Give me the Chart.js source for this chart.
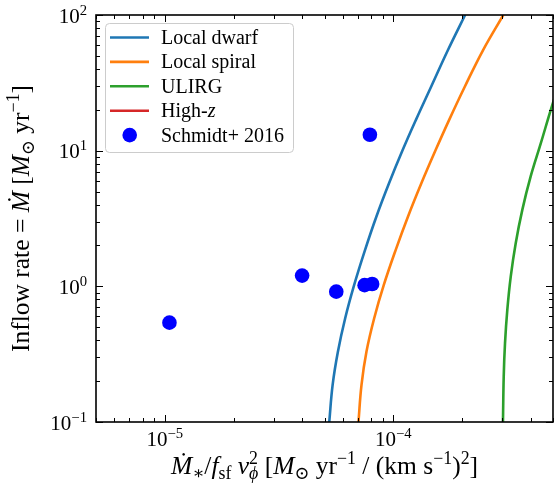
<!DOCTYPE html>
<html>
<head>
<meta charset="utf-8">
<script src="https://cdn.jsdelivr.net/npm/chart.js@4.4.1/dist/chart.umd.min.js"></script>
<style>
  html, body { margin: 0; padding: 0; background: #fff; }
  canvas { display: block; }
</style>
</head>
<body>
<canvas id="inflowChart" width="555" height="485"></canvas>
<script>
// ===== DATA =====
const xDwarf = [5.245e-5, 5.427e-5, 5.723e-5, 6.159e-5, 6.743e-5, 7.52e-5, 8.43e-5, 9.58e-5, 1.099e-4, 1.255e-4, 1.464e-4, 1.735e-4, 2.062e-4];
const yDwarf = [0.1, 0.188, 0.330, 0.582, 1.024, 1.85, 3.26, 5.75, 10.1, 16.8, 29.6, 55.2, 100];

const xSpiral = [7.04e-5, 7.26e-5, 7.63e-5, 8.25e-5, 9.09e-5, 1.024e-4, 1.159e-4, 1.327e-4, 1.532e-4, 1.754e-4, 2.055e-4, 2.472e-4, 3.03e-4];
const ySpiral = [0.1, 0.188, 0.330, 0.582, 1.024, 1.85, 3.26, 5.75, 10.1, 16.8, 29.6, 55.2, 100];

const xUlirg = [3.02e-4, 3.043e-4, 3.083e-4, 3.155e-4, 3.266e-4, 3.434e-4, 3.67e-4, 3.99e-4, 4.42e-4, 4.89e-4, 5.44e-4];
const yUlirg = [0.1, 0.216, 0.381, 0.670, 1.18, 2.08, 3.66, 6.43, 11.3, 20.0, 35.1];

// High-z curve lies outside the plotted range
const xHighz = [];
const yHighz = [];

const xSchmidt = [1.048e-5, 3.99e-5, 5.63e-5, 7.49e-5, 8.08e-5, 7.9e-5];
const ySchmidt = [0.54, 1.20, 0.914, 1.02, 1.04, 13.1];

const xRange = [5e-6, 5e-4];
const yRange = [0.1, 100];
const xMajor = [1e-5, 1e-4];
const xMajorExp = ["−5", "−4"];
const yMajor = [0.1, 1, 10, 100];
const yMajorExp = ["−1", "0", "1", "2"];

const COLORS = { dwarf: "#1f77b4", spiral: "#ff7f0e", ulirg: "#2ca02c", highz: "#d62728", schmidt: "#0000ff" };
const SERIF = '"Liberation Serif", "DejaVu Serif", serif';

function pts(xs, ys) {
    return xs.map((x, i) => ({ x: x, y: ys[i] }));
}

// ===== RICH TEXT (sub / superscripts) =====
function fontFor(seg, size) {
    const s = seg.sh ? size * 0.7 : size;
    return (seg.it ? "italic " : "") + s + "px " + SERIF;
}

function layoutRich(ctx, segs, size) {
    let x = 0, prevStart = 0, prevW = 0;
    const out = [];
    segs.forEach(seg => {
        ctx.font = fontFor(seg, size);
        const w = ctx.measureText(seg.t).width;
        let start;
        if (seg.over) {
            start = prevStart;
            x += Math.max(0, w - prevW);
            prevW = Math.max(w, prevW);
        } else {
            start = x;
            x += w;
            prevW = w;
        }
        prevStart = start;
        out.push({ seg: seg, x: start });
    });
    return { items: out, width: x };
}

function drawRich(ctx, segs, x, y, size, align) {
    const lay = layoutRich(ctx, segs, size);
    let x0 = x;
    if (align === "center") x0 = x - lay.width / 2;
    if (align === "right") x0 = x - lay.width;
    ctx.textBaseline = "alphabetic";
    ctx.textAlign = "left";
    lay.items.forEach(it => {
        ctx.font = fontFor(it.seg, size);
        let dy = 0;
        if (it.seg.sh === 1) dy = -0.38 * size;
        if (it.seg.sh === -1) dy = 0.2 * size;
        ctx.fillText(it.seg.t, x0 + it.x, y + dy);
    });
}

// ===== FRAME, TICKS, LABELS, LEGEND =====
const framePlugin = {
    id: "frame",
    beforeDraw(chart) {
        const ctx = chart.ctx;
        ctx.save();
        ctx.fillStyle = "#fff";
        ctx.fillRect(0, 0, chart.width, chart.height);
        ctx.restore();
    },
    afterDraw(chart) {
        const ctx = chart.ctx;
        const a = chart.chartArea;
        const xs = chart.scales.x, ys = chart.scales.y;
        ctx.save();
        ctx.strokeStyle = "#000";
        ctx.fillStyle = "#000";

        // ticks (inward, all four sides)
        ctx.lineWidth = 1;
        function tick(px, horiz, len) {
            ctx.beginPath();
            if (horiz) {
                ctx.moveTo(px, a.bottom); ctx.lineTo(px, a.bottom - len);
                ctx.moveTo(px, a.top); ctx.lineTo(px, a.top + len);
            } else {
                ctx.moveTo(a.left, px); ctx.lineTo(a.left + len, px);
                ctx.moveTo(a.right, px); ctx.lineTo(a.right - len, px);
            }
            ctx.stroke();
        }
        for (let d = -6; d <= -3; d++) {
            for (let m = 1; m <= 9; m++) {
                const v = m * Math.pow(10, d);
                if (v < xRange[0] * 0.999 || v > xRange[1] * 1.001) continue;
                const px = Math.round(xs.getPixelForValue(v)) + 0.5;
                tick(px, true, m === 1 ? 7 : 4);
            }
        }
        for (let d = -1; d <= 2; d++) {
            for (let m = 1; m <= 9; m++) {
                const v = m * Math.pow(10, d);
                if (v < yRange[0] * 0.999 || v > yRange[1] * 1.001) continue;
                const py = Math.round(ys.getPixelForValue(v)) + 0.5;
                tick(py, false, m === 1 ? 7 : 4);
            }
        }

        // spines
        ctx.lineWidth = 1.6;
        ctx.strokeRect(a.left, a.top, a.right - a.left, a.bottom - a.top);

        // tick labels
        const TS = 21;
        xMajor.forEach((v, i) => {
            const px = xs.getPixelForValue(v);
            drawRich(ctx, [{ t: "10" }, { t: xMajorExp[i], sh: 1 }], px, a.bottom + 24, TS, "center");
        });
        yMajor.forEach((v, i) => {
            const py = ys.getPixelForValue(v);
            drawRich(ctx, [{ t: "10" }, { t: yMajorExp[i], sh: 1 }], a.left - 9, py + 7.5, TS, "right");
        });

        // axis titles
        const AS = 25.5;
        const xTitle = [
            { t: "Ṁ", it: true }, { t: "∗", sh: -1 }, { t: "/" },
            { t: "f", it: true }, { t: "sf", sh: -1 }, { t: " " },
            { t: "v", it: true }, { t: "2", sh: 1 }, { t: "ϕ", it: true, sh: -1, over: true },
            { t: " [" }, { t: "M", it: true }, { t: "⊙", sh: -1 },
            { t: " yr" }, { t: "−1", sh: 1 }, { t: " / (km s" }, { t: "−1", sh: 1 },
            { t: ")" }, { t: "2", sh: 1 }, { t: "]" }
        ];
        drawRich(ctx, xTitle, (a.left + a.right) / 2, 474, AS, "center");

        const yTitle = [
            { t: "Inflow rate = " }, { t: "Ṁ", it: true }, { t: " [" },
            { t: "M", it: true }, { t: "⊙", sh: -1 }, { t: " yr" },
            { t: "−1", sh: 1 }, { t: "]" }
        ];
        ctx.save();
        ctx.translate(28.5, (a.top + a.bottom) / 2);
        ctx.rotate(-Math.PI / 2);
        drawRich(ctx, yTitle, 0, 0, AS, "center");
        ctx.restore();

        // legend
        const L = { x: 105, y: 23, w: 188, h: 129 };
        ctx.fillStyle = "rgba(255,255,255,0.8)";
        ctx.strokeStyle = "#cccccc";
        ctx.lineWidth = 1;
        ctx.beginPath();
        ctx.roundRect(L.x + 0.5, L.y + 0.5, L.w, L.h, 4);
        ctx.fill();
        ctx.stroke();

        const rows = [
            { segs: [{ t: "Local dwarf" }], color: COLORS.dwarf, kind: "line" },
            { segs: [{ t: "Local spiral" }], color: COLORS.spiral, kind: "line" },
            { segs: [{ t: "ULIRG" }], color: COLORS.ulirg, kind: "line" },
            { segs: [{ t: "High-" }, { t: "z", it: true }], color: COLORS.highz, kind: "line" },
            { segs: [{ t: "Schmidt+ 2016" }], color: COLORS.schmidt, kind: "dot" }
        ];
        rows.forEach((r, i) => {
            const cy = 37.5 + i * 24.4;
            if (r.kind === "line") {
                ctx.strokeStyle = r.color;
                ctx.lineWidth = 2.6;
                ctx.beginPath();
                ctx.moveTo(110, cy);
                ctx.lineTo(149, cy);
                ctx.stroke();
            } else {
                ctx.fillStyle = r.color;
                ctx.beginPath();
                ctx.arc(129.7, cy, 7.3, 0, Math.PI * 2);
                ctx.fill();
            }
            ctx.fillStyle = "#000";
            drawRich(ctx, r.segs, 161, cy + 6.5, 20, "left");
        });

        ctx.restore();
    }
};

// ===== CHART =====
const lineStyle = {
    showLine: true,
    pointRadius: 0,
    borderWidth: 2.6,
    tension: 0.4,
    clip: 0,
    order: 1
};

new Chart(document.getElementById("inflowChart"), {
    type: "scatter",
    data: {
        datasets: [
            Object.assign({ label: "Local dwarf", data: pts(xDwarf, yDwarf), borderColor: COLORS.dwarf }, lineStyle),
            Object.assign({ label: "Local spiral", data: pts(xSpiral, ySpiral), borderColor: COLORS.spiral }, lineStyle),
            Object.assign({ label: "ULIRG", data: pts(xUlirg, yUlirg), borderColor: COLORS.ulirg }, lineStyle),
            Object.assign({ label: "High-z", data: pts(xHighz, yHighz), borderColor: COLORS.highz }, lineStyle),
            {
                label: "Schmidt+ 2016",
                data: pts(xSchmidt, ySchmidt),
                pointRadius: 7.3,
                pointBackgroundColor: COLORS.schmidt,
                pointBorderWidth: 0,
                showLine: false,
                order: 0
            }
        ]
    },
    options: {
        responsive: false,
        animation: false,
        devicePixelRatio: 1,
        layout: { autoPadding: false, padding: { left: 0, top: 15, right: 2, bottom: 0 } },
        plugins: {
            legend: { display: false },
            tooltip: { enabled: false }
        },
        scales: {
            x: {
                type: "logarithmic",
                min: xRange[0],
                max: xRange[1],
                ticks: { display: false },
                grid: { display: false },
                border: { display: false },
                afterFit(s) { s.height = 63; }
            },
            y: {
                type: "logarithmic",
                min: yRange[0],
                max: yRange[1],
                ticks: { display: false },
                grid: { display: false },
                border: { display: false },
                afterFit(s) { s.width = 96; }
            }
        }
    },
    plugins: [framePlugin]
});
</script>
</body>
</html>
